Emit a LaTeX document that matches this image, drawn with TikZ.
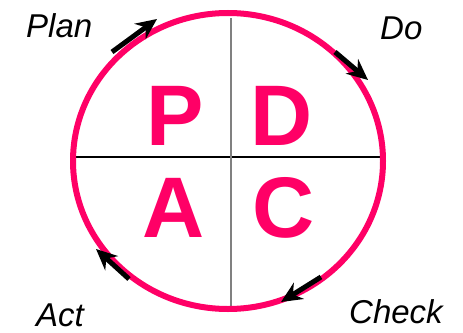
\documentclass[tikz,border=0pt]{standalone}
\usepackage{fontspec}
\setmainfont{Liberation Sans}
\usetikzlibrary{arrows.meta}
\definecolor{pdcapink}{HTML}{FF0066}
\begin{document}
\begin{tikzpicture}[x=1pt,y=-1pt,
  bigletter/.style={text=pdcapink,font=\fontsize{86}{86}\selectfont\bfseries,inner sep=0pt,anchor=base},
  phaselabel/.style={font=\fontsize{33}{33}\selectfont\itshape,inner sep=0pt,anchor=base west},
  cyclearrow/.style={line width=5pt,-{Stealth[length=21pt,width=19pt,inset=7pt]}}]
\useasboundingbox (0,0) rectangle (463,332);
\coordinate (ctr) at (228,161);
\draw[black,line width=1.4pt] (72,157) coordinate (hl) -- (385,157) coordinate (hr);
\draw[gray,line width=2pt] (231,18) coordinate (vt) -- (231,306) coordinate (vb);
\draw[pdcapink,line width=6pt] (ctr) ellipse [x radius=155, y radius=148];
\node[bigletter] (P) at (175,145) {P};
\node[bigletter] (D) at (282,145) {D};
\node[bigletter] (A) at (174,237) {A};
\node[bigletter] (C) at (284,237) {C};
\node[phaselabel] (plan) at (26,37) {Plan};
\node[phaselabel] (do) at (380,39) {Do};
\node[phaselabel] (check) at (349,323) {Check};
\node[phaselabel] (act) at (36,326) {Act};
\coordinate (a1s) at (112,52); \coordinate (a1e) at (157,19);
\coordinate (a2s) at (335,52); \coordinate (a2e) at (368,80);
\coordinate (a3s) at (321,277); \coordinate (a3e) at (281,302);
\coordinate (a4s) at (129,279); \coordinate (a4e) at (96,249);
\draw[cyclearrow] (a1s) -- (a1e);
\draw[cyclearrow] (a2s) -- (a2e);
\draw[cyclearrow] (a3s) -- (a3e);
\draw[cyclearrow] (a4s) -- (a4e);
\end{tikzpicture}
\end{document}
